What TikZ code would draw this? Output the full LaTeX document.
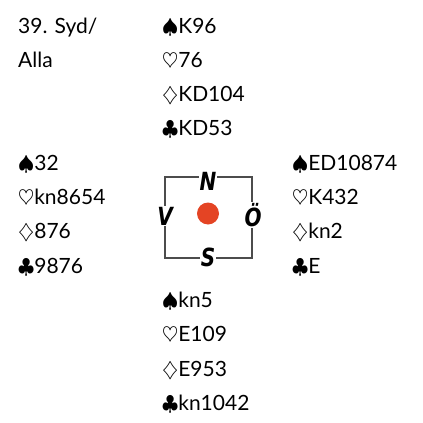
\documentclass[tikz,border=0pt]{standalone}
\usepackage{fontspec}
\setmainfont{Lato}
\newfontfamily\vaderfont[FakeStretch=0.8]{DejaVu Sans}
\definecolor{dotred}{RGB}{228,68,36}
\tikzset{
  hand/.style={anchor=base west, inner sep=0pt, font=\fontsize{21}{21}\selectfont},
  vader/.style={fill=white, inner sep=1pt, font=\vaderfont\bfseries\itshape\fontsize{25}{25}\selectfont},
  ram/.style={draw=black!70, line width=2.2pt},
}
\begin{document}
\begin{tikzpicture}[x=1pt,y=-1pt]
    \useasboundingbox (0,0) rectangle (423,423);

    % Heading
    \node[hand] (rubrik) at (18,33) {39. Syd/};
    \node[hand] (giv) at (18,67.3) {Alla};

    % Hands, one suit per line
    \def\lh{34.3}
    \foreach \c [count=\k] in {{$\spadesuit$K96},{$\heartsuit$76},{$\diamondsuit$KD104},{$\clubsuit$KD53}}
        \node[hand] (nord\k) at (162, {33+(\k-1)*\lh}) {\c};
    \foreach \c [count=\k] in {{$\spadesuit$32},{$\heartsuit$kn8654},{$\diamondsuit$876},{$\clubsuit$9876}}
        \node[hand] (vast\k) at (18, {33+(\k+3)*\lh}) {\c};
    \foreach \c [count=\k] in {{$\spadesuit$ED10874},{$\heartsuit$K432},{$\diamondsuit$kn2},{$\clubsuit$E}}
        \node[hand] (ost\k) at (292, {33+(\k+3)*\lh}) {\c};
    \foreach \c [count=\k] in {{$\spadesuit$kn5},{$\heartsuit$E109},{$\diamondsuit$E953},{$\clubsuit$kn1042}}
        \node[hand] (syd\k) at (162, {33+(\k+7)*\lh}) {\c};

    % Compass
    \coordinate (nv) at (165,177);
    \coordinate (so) at (252,258);
    \draw[ram] (nv) rectangle (so);
    \node[vader] (N) at (208,181) {N};
    \node[vader] (S) at (208,257) {S};
    \node[vader] (V) at (165,216) {V};
    \node[vader] (O) at (253,215) {Ö};
    \fill[dotred] (208,213.5) circle (11pt);

\end{tikzpicture}
\end{document}
